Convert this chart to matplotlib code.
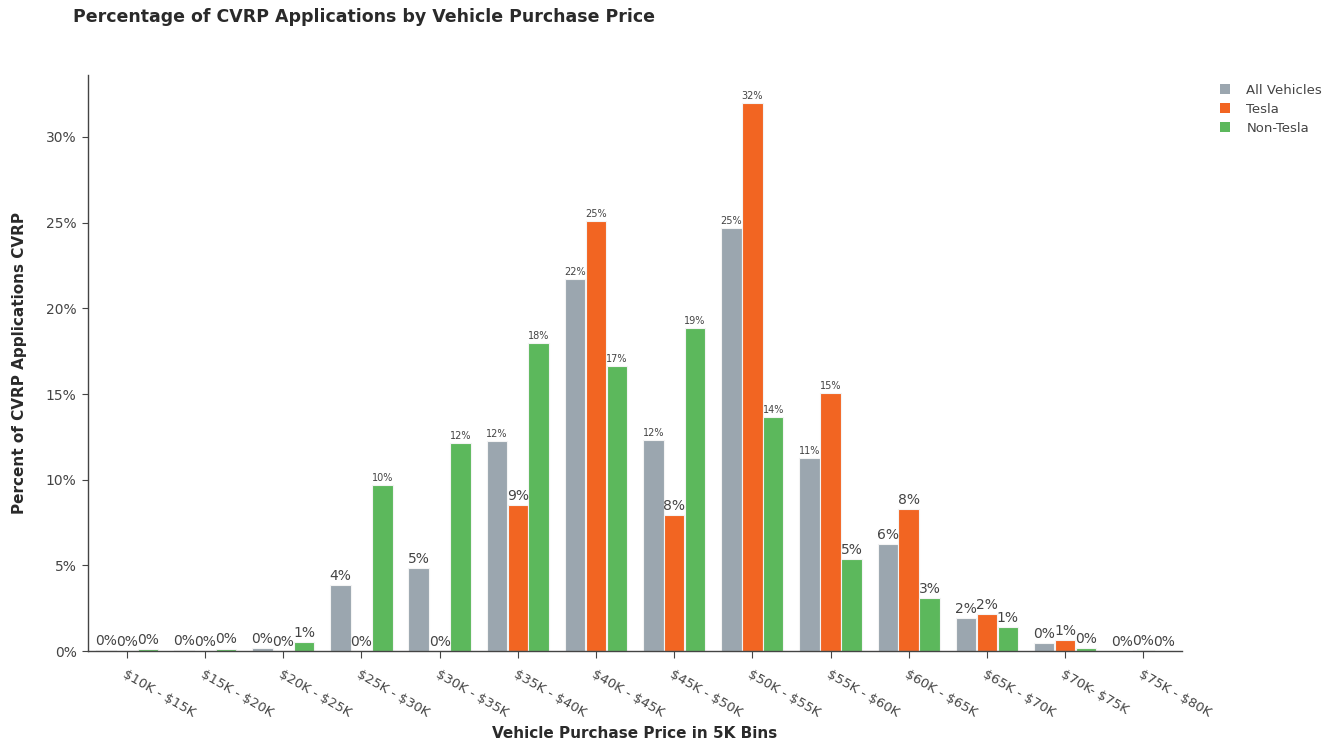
import matplotlib
matplotlib.use("Agg")
import matplotlib.pyplot as plt
import numpy as np

plt.rcParams["text.parse_math"] = False

categories = ["$10K - $15K", "$15K - $20K", "$20K - $25K", "$25K - $30K", "$30K - $35K",
              "$35K - $40K", "$40K - $45K", "$45K - $50K", "$50K - $55K", "$55K - $60K",
              "$60K - $65K", "$65K - $70K", "$70K- $75K", "$75K - $80K"]
all_vehicles = [0.05, 0.05, 0.2, 3.85, 4.85, 12.26, 21.7, 12.3, 24.7, 11.27, 6.25, 1.93, 0.47, 0.03]
tesla = [0.0, 0.0, 0.0, 0.0, 0.0, 8.52, 25.1, 7.94, 32.0, 15.06, 8.29, 2.16, 0.64, 0.05]
non_tesla = [0.1, 0.15, 0.53, 9.7, 12.14, 17.98, 16.64, 18.86, 13.66, 5.37, 3.1, 1.4, 0.17, 0.02]
series_names = ["All Vehicles", "Tesla", "Non-Tesla"]
colors = ["#9BA6AF", "#F26522", "#5CB85C"]
yticks = [0, 5, 10, 15, 20, 25, 30]

fig = plt.figure(figsize=(13.3, 7.45), dpi=100)
ax = fig.add_axes([0.066, 0.126, 0.823, 0.773])

x = np.arange(len(categories))
w = 0.262
txtc = "#444444"
for i, (vals, name, c) in enumerate(zip([all_vehicles, tesla, non_tesla], series_names, colors)):
    off = (i - 1) * (w + 0.005)
    ax.bar(x + off, vals, width=w, color=c, edgecolor="#f4f4f4", linewidth=0.8, label=name)
    for xi, v in zip(x, vals):
        lab = f"{int(np.floor(v + 0.5))}%"
        fs = 10 if len(lab) <= 2 else 7
        ax.annotate(lab, (xi + off, v), xytext=(0, 1.5), textcoords="offset points",
                    ha="center", va="bottom", fontsize=fs, color=txtc)

ax.set_xlim(-0.5, len(categories) - 0.5)
ax.set_ylim(0, 33.6)
ax.set_yticks(yticks)
ax.set_yticklabels([f"{t}%" for t in yticks], fontsize=10, color=txtc)
ax.set_xticks(x)
ax.set_xticklabels(categories, rotation=-30, ha="left", rotation_mode="anchor", fontsize=9.5, color=txtc)
ax.tick_params(axis="x", length=5, color=txtc, pad=7)
ax.tick_params(axis="y", length=4, color=txtc, pad=4)
for s in ["top", "right"]:
    ax.spines[s].set_visible(False)
for s in ["left", "bottom"]:
    ax.spines[s].set_color(txtc)
    ax.spines[s].set_linewidth(1.0)

fig.text(73 / 1330, 1 - 17 / 745, "Percentage of CVRP Applications by Vehicle Purchase Price",
         fontsize=12.5, fontweight="bold", color="#2a2a2a", ha="left", va="center")
fig.text(20 / 1330, 1 - 363 / 745, "Percent of CVRP Applications CVRP", rotation=90,
         fontsize=11, fontweight="bold", color="#2a2a2a", ha="center", va="center")
fig.text(635 / 1330, 1 - 734 / 745, "Vehicle Purchase Price in 5K Bins",
         fontsize=11, fontweight="bold", color="#2a2a2a", ha="center", va="center")

leg = fig.legend(loc="upper left", bbox_to_anchor=(1208 / 1330, 1 - 72 / 745), frameon=False,
                 fontsize=9.5, handlelength=0.8, handleheight=0.8, handletextpad=1.2,
                 labelspacing=0.45, labelcolor=txtc)
for h in leg.legend_handles:
    h.set_edgecolor("none")

fig.savefig("out.png", dpi=100)
